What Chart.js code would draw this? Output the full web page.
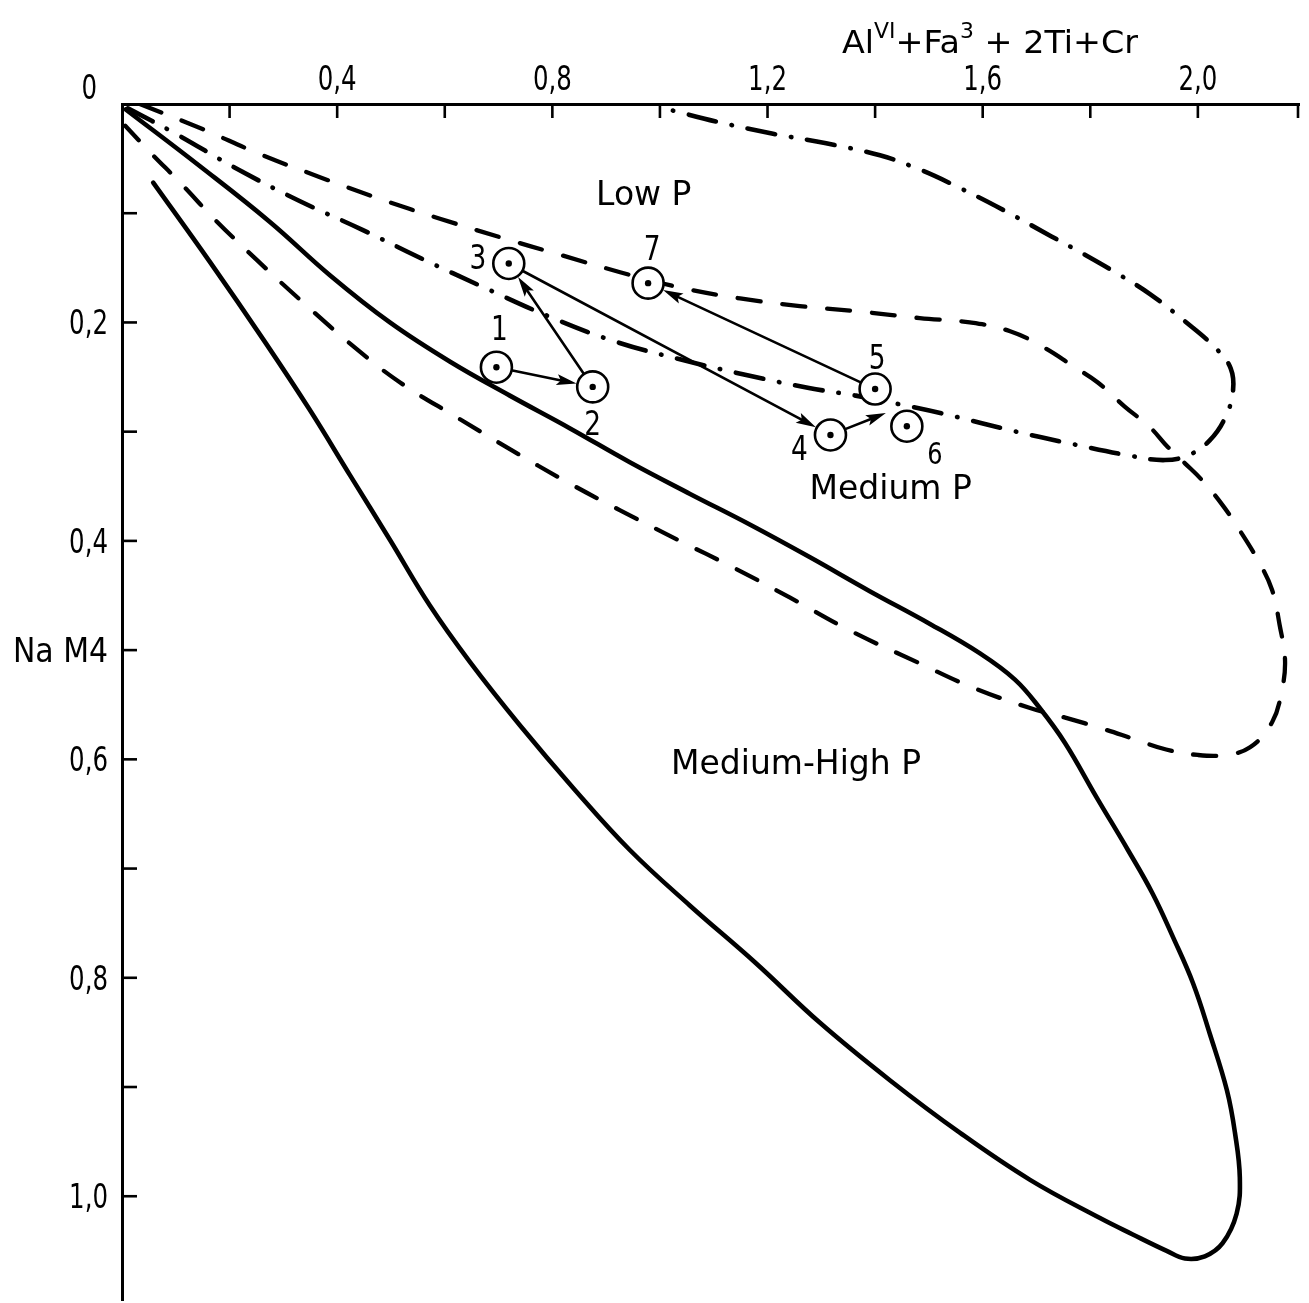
<!DOCTYPE html>
<html><head><meta charset="utf-8">
<script src="https://cdn.jsdelivr.net/npm/chart.js@4.4.1/dist/chart.umd.min.js"></script>
<style>html,body{margin:0;padding:0;background:#fff;}#wrap{width:1309px;height:1303px;}</style>
</head><body><div id="wrap"><canvas id="c" width="1309" height="1303"></canvas></div>
<script>
// ---------- data ----------
const xTickValues = [0.2,0.4,0.6,0.8,1.0,1.2,1.4,1.6,1.8,2.0];
const xLabelValues = [0.4,0.8,1.2,1.6,2.0];
const xLabelTexts = ['0,4','0,8','1,2','1,6','2,0'];
const yTickValues = [0.1,0.2,0.3,0.4,0.5,0.6,0.7,0.8,0.9,1.0];
const yLabelValues = [0.2,0.4,0.5,0.6,0.8,1.0];
const yLabelTexts = ['0,2','0,4','Na M4','0,6','0,8','1,0'];
const originLabel = '0';
const xTitleParts = ['Al','VI','+Fa','3',' + 2Ti+Cr'];
const xTitleSup = [false,true,false,true,false];

const solidBoundary = [[0.007,0.005],[0.145,0.057],[0.275,0.108],[0.387,0.157],[0.498,0.200],[0.610,0.236],[0.721,0.267],[0.833,0.297],[0.944,0.328],[1.056,0.357],[1.167,0.385],[1.279,0.415],[1.390,0.446],[1.502,0.476],[1.595,0.503],[1.660,0.527],[1.706,0.553],[1.753,0.585],[1.812,0.635],[1.870,0.683],[1.916,0.723],[1.954,0.763],[1.991,0.805],[2.022,0.851],[2.054,0.903],[2.069,0.942],[2.078,0.983],[2.072,1.016],[2.046,1.043],[2.013,1.055],[1.976,1.057],[1.942,1.050],[1.879,1.035],[1.818,1.020],[1.688,0.985],[1.558,0.942],[1.428,0.894],[1.297,0.841],[1.177,0.786],[1.056,0.734],[0.944,0.683],[0.842,0.628],[0.740,0.569],[0.647,0.511],[0.572,0.459],[0.498,0.399],[0.424,0.340],[0.349,0.280],[0.266,0.218],[0.164,0.145],[0.058,0.072]];

const dashedBoundary = [[0.033,0.000],[0.145,0.022],[0.257,0.046],[0.368,0.067],[0.480,0.087],[0.591,0.105],[0.703,0.122],[0.814,0.138],[0.926,0.154],[1.037,0.168],[1.149,0.178],[1.260,0.185],[1.372,0.190],[1.483,0.196],[1.576,0.200],[1.651,0.208],[1.714,0.223],[1.768,0.240],[1.814,0.255],[1.864,0.277],[1.911,0.296],[1.944,0.314],[1.976,0.329],[2.007,0.344],[2.041,0.364],[2.072,0.386],[2.112,0.418],[2.138,0.445],[2.152,0.477],[2.162,0.509],[2.156,0.537],[2.138,0.566],[2.097,0.589],[2.050,0.596],[2.000,0.596],[1.941,0.591],[1.879,0.581],[1.823,0.572],[1.755,0.562],[1.688,0.553],[1.580,0.534],[1.478,0.511],[1.353,0.482],[1.242,0.452],[1.139,0.425],[1.033,0.399],[0.926,0.372],[0.827,0.346],[0.721,0.316],[0.623,0.287],[0.517,0.255],[0.428,0.221],[0.335,0.181],[0.251,0.143],[0.173,0.106],[0.112,0.074],[0.052,0.044],[0.006,0.020]];

const dashDotBoundary = [[0.011,0.004],[0.099,0.027],[0.216,0.060],[0.331,0.089],[0.446,0.115],[0.559,0.142],[0.673,0.168],[0.796,0.195],[0.914,0.217],[1.039,0.234],[1.169,0.249],[1.277,0.260],[1.364,0.267],[1.446,0.275],[1.539,0.285],[1.654,0.299],[1.764,0.311],[1.874,0.322],[1.939,0.326],[1.985,0.321],[2.022,0.308],[2.050,0.288],[2.065,0.264],[2.061,0.242],[2.032,0.223],[1.976,0.199],[1.911,0.174],[1.853,0.156],[1.790,0.138],[1.727,0.121],[1.638,0.097],[1.558,0.077],[1.483,0.060],[1.409,0.047],[1.309,0.036],[1.208,0.027],[1.104,0.016],[1.024,0.006]];

const pointNames = ['1','2','3','4','5','6','7'];
const pointX = [0.696,0.875,0.719,1.317,1.400,1.459,0.978];
const pointY = [0.241,0.259,0.146,0.303,0.261,0.295,0.164];
const arrowPairs = [['1','2'],['2','3'],['3','4'],['5','7']];
const openArrowFrom = ['4'];
const openArrowToX = [1.420];
const openArrowToY = [0.283];
const regionNames = ['Low P','Medium P','Medium-High P'];
const regionX = [0.970,1.429,1.253];
const regionY = [0.0925,0.362,0.613];

// ---------- styles (pixel offsets, sizes) ----------
const labelOffsets = {'1':[3,-39],'2':[0,36],'3':[-31,-6],'4':[-31,13],'5':[2,-32],'6':[28,26],'7':[4,-35]};
const FONT = '"DejaVu Sans", "Liberation Sans", sans-serif';
const CIRCLE_R = 15.5;

function pts(a){ return a.map(p => ({x:p[0], y:p[1]})); }

function drawText(ctx, text, x, y, size, align, sx, base){
  ctx.save();
  ctx.font = size + 'px ' + FONT;
  ctx.textAlign = align || 'center';
  ctx.textBaseline = base || 'alphabetic';
  ctx.translate(x, y);
  ctx.scale(sx || 1, 1);
  ctx.fillStyle = '#000';
  ctx.fillText(text, 0, 0);
  ctx.restore();
}

function arrow(ctx, x1, y1, x2, y2, r1, r2){
  const dx = x2-x1, dy = y2-y1, L = Math.hypot(dx,dy);
  const ux = dx/L, uy = dy/L;
  const sx = x1+ux*r1, sy = y1+uy*r1;
  const ex = x2-ux*r2, ey = y2-uy*r2;
  const hl = 20, hw = 5.5;
  ctx.save();
  ctx.strokeStyle = '#000'; ctx.fillStyle = '#000';
  ctx.lineWidth = 2.6; ctx.lineCap = 'round';
  ctx.beginPath(); ctx.moveTo(sx,sy); ctx.lineTo(ex-ux*hl*0.6, ey-uy*hl*0.6); ctx.stroke();
  ctx.beginPath();
  ctx.moveTo(ex,ey);
  ctx.lineTo(ex-ux*hl - uy*hw, ey-uy*hl + ux*hw);
  ctx.lineTo(ex-ux*hl*0.8, ey-uy*hl*0.8);
  ctx.lineTo(ex-ux*hl + uy*hw, ey-uy*hl - ux*hw);
  ctx.closePath(); ctx.fill();
  ctx.restore();
}

const deco = {
  id: 'deco',
  beforeDatasetsDraw(chart){
    const ctx = chart.ctx, xs = chart.scales.x, ys = chart.scales.y;
    const px = n => xs.getPixelForValue(pointX[pointNames.indexOf(n)]);
    const py = n => ys.getPixelForValue(pointY[pointNames.indexOf(n)]);
    arrowPairs.forEach(([a,b]) => arrow(ctx, px(a), py(a), px(b), py(b), CIRCLE_R+1, CIRCLE_R+1));
    openArrowFrom.forEach((a,i) => arrow(ctx, px(a), py(a), xs.getPixelForValue(openArrowToX[i]), ys.getPixelForValue(openArrowToY[i]), CIRCLE_R+1, 0));
  },
  afterDraw(chart){
    const ctx = chart.ctx, xs = chart.scales.x, ys = chart.scales.y, ca = chart.chartArea;
    ctx.save();
    ctx.strokeStyle = '#000'; ctx.lineWidth = 2.6;
    xTickValues.concat([xs.max]).forEach(v => {
      const p = Math.min(xs.getPixelForValue(v), ca.right - 1);
      ctx.beginPath(); ctx.moveTo(p, ca.top); ctx.lineTo(p, ca.top+14); ctx.stroke();
    });
    yTickValues.forEach(v => {
      const p = ys.getPixelForValue(v);
      ctx.beginPath(); ctx.moveTo(ca.left, p); ctx.lineTo(ca.left+15, p); ctx.stroke();
    });
    ctx.restore();
    // tick labels
    xLabelValues.forEach((v,i) => drawText(ctx, xLabelTexts[i], xs.getPixelForValue(v), ca.top-14, 34, 'center', 0.72));
    yLabelValues.forEach((v,i) => {
      const t = yLabelTexts[i];
      drawText(ctx, t, ca.left-14, ys.getPixelForValue(v)+12, 34, 'right', t.length > 3 ? 0.88 : 0.72);
    });
    drawText(ctx, originLabel, ca.left-25, ca.top-5, 34, 'right', 0.72);
    // axis title with superscripts
    ctx.save();
    const mainSize = 32, supSize = 21;
    let w = 0;
    xTitleParts.forEach((t,i) => { ctx.font = (xTitleSup[i]?supSize:mainSize)+'px '+FONT; w += ctx.measureText(t).width; });
    const target = 296, sx = target / w;
    let cx = 842;
    const base = 53;
    xTitleParts.forEach((t,i) => {
      const s = xTitleSup[i]?supSize:mainSize;
      ctx.font = s+'px '+FONT;
      const tw = ctx.measureText(t).width;
      drawText(ctx, t, cx, xTitleSup[i] ? base-15 : base, s, 'left', sx);
      cx += tw*sx;
    });
    ctx.restore();
    // region labels
    regionNames.forEach((t,i) => drawText(ctx, t, xs.getPixelForValue(regionX[i]), ys.getPixelForValue(regionY[i]), 33, 'center', 1));
    // point numbers
    pointNames.forEach((n,i) => {
      const o = labelOffsets[n];
      drawText(ctx, n, xs.getPixelForValue(pointX[i])+o[0], ys.getPixelForValue(pointY[i])+o[1]+12, n==='6'?30:33, 'center', 0.8);
    });
  }
};

const samplePoints = pointX.map((x,i) => ({x, y: pointY[i]}));

new Chart(document.getElementById('c'), {
  type: 'scatter',
  data: {
    datasets: [
      {label:'centres', data: samplePoints, pointRadius: 3.2, pointBackgroundColor:'#000', pointBorderWidth:0, showLine:false},
      {label:'samples', data: samplePoints, pointRadius: CIRCLE_R, pointBackgroundColor:'#fff', pointBorderColor:'#000', pointBorderWidth:2.6, showLine:false},
      {label:'Medium-High P', data: pts(solidBoundary), showLine:true, borderColor:'#000', borderWidth:4.6, pointRadius:0, tension:0.4, borderCapStyle:'round', borderJoinStyle:'round', fill:false},
      {label:'Medium P', data: pts(dashedBoundary), showLine:true, borderColor:'#000', borderWidth:4.3, pointRadius:0, tension:0.4, borderDash:[23,22], borderCapStyle:'round', fill:false},
      {label:'Low P', data: pts(dashDotBoundary), showLine:true, borderColor:'#000', borderWidth:4.6, pointRadius:0, tension:0.4, borderDash:[28,16,0.5,16], borderCapStyle:'round', fill:false}
    ]
  },
  options: {
    responsive: false,
    devicePixelRatio: 1,
    animation: false,
    events: [],
    layout: {autoPadding: false, padding: {left:0, top:0, right:10, bottom:3}},
    plugins: {legend:{display:false}, tooltip:{enabled:false}},
    scales: {
      x: {type:'linear', position:'top', min:0, max:2.188,
          ticks:{display:false}, grid:{display:false, drawTicks:false},
          border:{display:true, color:'#000', width:3},
          afterFit(s){ s.height = 104; }},
      y: {type:'linear', position:'left', reverse:true, min:0, max:1.095,
          ticks:{display:false}, grid:{display:false, drawTicks:false},
          border:{display:true, color:'#000', width:3},
          afterFit(s){ s.width = 122; }}
    }
  },
  plugins: [deco]
});
</script>
</body></html>
